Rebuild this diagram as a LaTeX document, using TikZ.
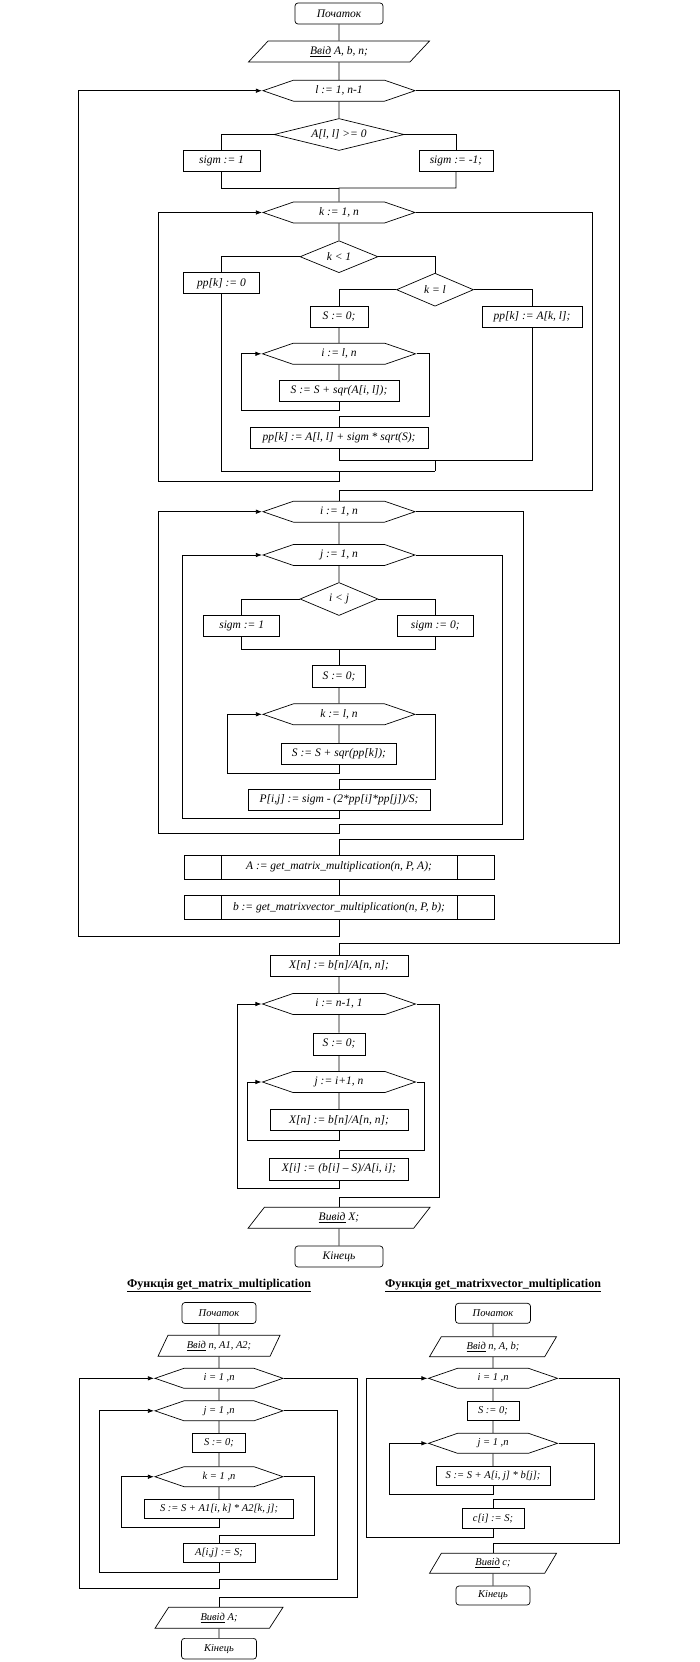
\documentclass[tikz,border=0pt]{standalone}
\usepackage{fontspec}
\setmainfont{Liberation Serif}
\usetikzlibrary{shapes.geometric, shapes.symbols, arrows.meta}
\newcommand\flowsize{11.5}
\newcommand\flowfont{\fontsize{\flowsize}{13}\selectfont\itshape}
\tikzset{
  terminal/.style={rectangle, rounded corners=3pt, draw, inner sep=1pt,
                   minimum height=21pt, font=\flowfont},
  procbox/.style={rectangle, draw, inner sep=1pt, minimum height=21pt,
                  font=\flowfont},
  subproc/.style={procbox, minimum width=310pt, minimum height=24pt,
                  path picture={
                    \draw ([xshift=37pt]path picture bounding box.north west)
                      -- ([xshift=37pt]path picture bounding box.south west);
                    \draw ([xshift=-37pt]path picture bounding box.north east)
                      -- ([xshift=-37pt]path picture bounding box.south east);}},
  iobox/.style 2 args={trapezium, trapezium left angle=#1,
                       trapezium right angle=#2, trapezium stretches body,
                       draw, inner sep=1pt, minimum height=21pt, font=\flowfont},
  loopbox/.style={signal, signal to=east and west, signal pointer angle=38,
                  draw, inner sep=1pt, minimum height=21pt, font=\flowfont},
  condbox/.style={diamond, draw, inner sep=0pt, aspect=2.4, font=\flowfont},
  functitle/.style={font=\fontsize{12}{14}\selectfont\bfseries},
  arrow/.style={-{Latex[length=6pt, width=4.5pt]}},
}
\begin{document}
\begin{tikzpicture}[x=1pt, y=-1pt, line width=0.7pt]
  \useasboundingbox (0,0) rectangle (700,1662);

  % main program
  \node[terminal, minimum width=88pt] (start) at (339,13.5) {Початок};
  \node[iobox={31.7}{148.3}, minimum width=181pt] (input) at (339,51.5)
    {\underline{Ввід} A, b, n;};
  \node[loopbox, minimum width=152pt] (loopl) at (339,90.7) {l := 1, n-1};
  \node[condbox, aspect=4, minimum width=130pt, minimum height=32pt] (condA)
    at (339,134.5) {A[l, l] >= 0};
  \node[procbox, minimum width=77pt] (sigpos) at (221.5,161) {sigm := 1};
  \node[procbox, minimum width=74pt] (signeg) at (456,161) {sigm := -1;};
  \coordinate (mergeA) at (339,188);

  \node[loopbox, minimum width=152pt] (loopk) at (339,212.5) {k := 1, n};
  \node[condbox, minimum width=78pt, minimum height=32pt] (condK) at (339,256.7)
    {k < 1};
  \node[procbox, minimum width=76pt] (ppzero) at (221.5,283.3) {pp[k] := 0};
  \node[condbox, minimum width=77pt, minimum height=33pt] (condKL) at (435,289.7)
    {k = l};
  \node[procbox, minimum width=58pt] (szero) at (339,317) {S  := 0;};
  \node[procbox, minimum width=100pt] (ppakl) at (532,317) {pp[k] := A[k, l];};
  \node[loopbox, minimum width=153pt] (loopi) at (339,353.8) {i := l, n};
  \node[procbox, minimum width=120pt] (sumA) at (339,391) {S := S + sqr(A[i, l]);};
  \node[procbox, minimum width=178pt] (ppall) at (339,438)
    {pp[k] := A[l, l] + sigm * sqrt(S);};
  \coordinate (mergeKL) at (435,460);
  \coordinate (mergeK) at (435,471);
  \coordinate (joinK) at (339,471);

  \node[loopbox, minimum width=152pt] (loopi2) at (339,511.7) {i := 1, n};
  \node[loopbox, minimum width=152pt] (loopj) at (339,555) {j := 1, n};
  \node[condbox, minimum width=78pt, minimum height=33pt] (condIJ) at (339,599)
    {i < j};
  \node[procbox, minimum width=76pt] (sigone) at (241.7,625.7) {sigm := 1};
  \node[procbox, minimum width=76pt] (sigzero) at (435.3,625.7) {sigm := 0;};
  \coordinate (mergeIJ) at (339,649);
  \node[procbox, minimum width=53pt, minimum height=22pt] (szero2) at (339,676.3)
    {S := 0;};
  \node[loopbox, minimum width=152pt] (loopk2) at (339,714.3) {k := l, n};
  \node[procbox, minimum width=115pt] (sumpp) at (339,754) {S := S + sqr(pp[k]);};
  \node[procbox, minimum width=182pt] (pij) at (339,799.7)
    {P[i,j] := sigm - (2*pp[i]*pp[j])/S;};
  \coordinate (joinJ) at (339,824);

  \node[subproc] (callA) at (339,867) {A := get\_matrix\_multiplication(n, P, A);};
  \node[subproc] (callB) at (339,907.3)
    {b := get\_matrixvector\_multiplication(n, P, b);};

  \node[procbox, minimum width=138pt] (xn) at (339,965.5) {X[n] := b[n]/A[n, n];};
  \node[loopbox, minimum width=153pt] (loopi3) at (339,1004) {i := n-1, 1};
  \node[procbox, minimum width=52pt, minimum height=22pt] (szero3) at (339,1044)
    {S := 0;};
  \node[loopbox, minimum width=153pt] (loopj3) at (339,1082) {j := i+1, n};
  \node[procbox, minimum width=138pt] (xnj) at (339,1120.3) {X[n] := b[n]/A[n, n];};
  \node[procbox, minimum width=139pt, minimum height=22pt] (xi) at (339,1169)
    {X[i] := (b[i] – S)/A[i, i];};
  \node[iobox={36.5}{143.5}, minimum width=182pt] (output) at (339,1217.8)
    {\underline{Вивід} X;};
  \node[terminal, minimum width=88pt] (stop) at (339,1256.5) {Кінець};

  \draw (start) -- (input) -- (loopl) -- (condA);
  \draw (condA.west) -| (sigpos);
  \draw (condA.east) -| (signeg);
  \draw (sigpos) |- (mergeA);
  \draw (signeg) |- (mergeA) -- (loopk);
  \draw (loopk) -- (condK);
  \draw (condK.west) -| (ppzero);
  \draw (condK.east) -| (condKL);
  \draw (condKL.west) -| (szero);
  \draw (condKL.east) -| (ppakl);
  \draw (szero) -- (loopi) -- (sumA);
  \coordinate (iL) at (241.7,410);
  \coordinate (iR) at (429.3,416.7);
  \draw[arrow] (sumA) |- (iL) |- (loopi.west);
  \draw (loopi.east) -| (iR) -| (ppall);
  \draw (ppall) |- (mergeKL);
  \draw (ppakl) |- (mergeKL) -- (mergeK);
  \draw (ppzero) |- (mergeK);
  \coordinate (kL) at (158.3,481);
  \coordinate (kR) at (592.3,490.7);
  \draw[arrow] (joinK) |- (kL) |- (loopk.west);
  \draw (loopk.east) -| (kR) -| (loopi2);

  \draw (loopi2) -- (loopj) -- (condIJ);
  \draw (condIJ.west) -| (sigone);
  \draw (condIJ.east) -| (sigzero);
  \draw (sigone) |- (mergeIJ);
  \draw (sigzero) |- (mergeIJ) -- (szero2);
  \draw (szero2) -- (loopk2) -- (sumpp);
  \coordinate (k2L) at (227.3,773.3);
  \coordinate (k2R) at (435.3,779.3);
  \draw[arrow] (sumpp) |- (k2L) |- (loopk2.west);
  \draw (loopk2.east) -| (k2R) -| (pij);
  \coordinate (jL) at (182.3,818.3);
  \coordinate (jR) at (502.3,824);
  \draw[arrow] (pij) |- (jL) |- (loopj.west);
  \draw (loopj.east) -| (jR) -- (joinJ);
  \coordinate (i2L) at (158.3,833.3);
  \coordinate (i2R) at (523.3,839.3);
  \draw[arrow] (joinJ) |- (i2L) |- (loopi2.west);
  \draw (loopi2.east) -| (i2R) -| (callA);
  \draw (callA) -- (callB);
  \coordinate (lL) at (78.3,936);
  \coordinate (lR) at (619,943.3);
  \draw[arrow] (callB) |- (lL) |- (loopl.west);
  \draw (loopl.east) -| (lR) -| (xn);

  \draw (xn) -- (loopi3) -- (szero3) -- (loopj3) -- (xnj);
  \coordinate (j3L) at (247.7,1140);
  \coordinate (j3R) at (424,1150.7);
  \draw[arrow] (xnj) |- (j3L) |- (loopj3.west);
  \draw (loopj3.east) -| (j3R) -| (xi);
  \coordinate (i3L) at (237.3,1188.3);
  \coordinate (i3R) at (439.3,1197.3);
  \draw[arrow] (xi) |- (i3L) |- (loopi3.west);
  \draw (loopi3.east) -| (i3R) -| (output);
  \draw (output) -- (stop);

  % the two functions, set a little smaller
  \begin{scope}
  \renewcommand\flowsize{10.5}

  % function get_matrix_multiplication
  \node[functitle] (mtitle) at (219,1285.7)
    {\underline{Функція get\_matrix\_multiplication}};
  \node[terminal, minimum width=74pt] (mstart) at (219,1313) {Початок};
  \node[iobox={48.8}{131.2}, minimum width=122pt] (minput) at (219,1345.8)
    {\underline{Ввід} n, A1, A2;};
  \node[loopbox, minimum width=128pt, minimum height=20pt] (mloopi) at (219,1378.3)
    {i = 1 ,n};
  \node[loopbox, minimum width=128pt, minimum height=20pt] (mloopj) at (219,1410.8)
    {j = 1 ,n};
  \node[procbox, minimum width=53pt, minimum height=19.5pt] (mszero) at (219,1443)
    {S := 0;};
  \node[loopbox, minimum width=128pt, minimum height=20pt] (mloopk) at (219,1476.7)
    {k = 1 ,n};
  \node[procbox, minimum width=149pt, minimum height=19pt] (msum) at (219,1508.8)
    {S := S + A1[i, k] * A2[k, j];};
  \node[procbox, minimum width=72pt, minimum height=19.5pt] (maij) at (219,1553)
    {A[i,j] := S;};
  \node[iobox={40}{140}, minimum width=128pt] (moutput) at (219,1617.8)
    {\underline{Вивід} A;};
  \node[terminal, minimum width=75pt, minimum height=20.7pt] (mstop) at (219,1648.7)
    {Кінець};

  \draw (mstart) -- (minput) -- (mloopi) -- (mloopj) -- (mszero) -- (mloopk) -- (msum);
  \coordinate (mkL) at (121.7,1527.7);
  \coordinate (mkR) at (314.3,1535.7);
  \draw[arrow] (msum) |- (mkL) |- (mloopk.west);
  \draw (mloopk.east) -| (mkR) -| (maij);
  \coordinate (mjL) at (99.3,1572.3);
  \coordinate (mjR) at (337.7,1579.3);
  \coordinate (mjoin) at (219,1579.3);
  \draw[arrow] (maij) |- (mjL) |- (mloopj.west);
  \draw (mloopj.east) -| (mjR) -- (mjoin);
  \coordinate (miL) at (79.3,1588.3);
  \coordinate (miR) at (357.3,1597.3);
  \draw[arrow] (mjoin) |- (miL) |- (mloopi.west);
  \draw (mloopi.east) -| (miR) -| (moutput);
  \draw (moutput) -- (mstop);

  % function get_matrixvector_multiplication
  \node[functitle] (vtitle) at (493,1285.7)
    {\underline{Функція get\_matrixvector\_multiplication}};
  \node[terminal, minimum width=75pt, minimum height=20pt] (vstart) at (493,1313.3)
    {Початок};
  \node[iobox={44}{136}, minimum width=127pt, minimum height=20pt] (vinput)
    at (493,1346.7) {\underline{Ввід} n, A, b;};
  \node[loopbox, minimum width=129pt, minimum height=20pt] (vloopi) at (493,1378.3)
    {i = 1 ,n};
  \node[procbox, minimum width=52pt, minimum height=18.5pt] (vszero) at (493,1411)
    {S := 0;};
  \node[loopbox, minimum width=129pt, minimum height=20pt] (vloopj) at (493,1443.3)
    {j = 1 ,n};
  \node[procbox, minimum width=114pt, minimum height=19pt] (vsum) at (493,1475.8)
    {S := S + A[i, j] * b[j];};
  \node[procbox, minimum width=62pt, minimum height=20pt] (vci) at (493,1518.3)
    {c[i] := S;};
  \node[iobox={44}{136}, minimum width=127pt, minimum height=20pt] (voutput)
    at (493,1563.3) {\underline{Вивід} c;};
  \node[terminal, minimum width=74pt, minimum height=19pt] (vstop) at (493,1595.5)
    {Кінець};

  \draw (vstart) -- (vinput) -- (vloopi) -- (vszero) -- (vloopj) -- (vsum);
  \coordinate (vjL) at (389.3,1494);
  \coordinate (vjR) at (594.3,1499.3);
  \draw[arrow] (vsum) |- (vjL) |- (vloopj.west);
  \draw (vloopj.east) -| (vjR) -| (vci);
  \coordinate (viL) at (366.7,1537.3);
  \coordinate (viR) at (619.3,1543.3);
  \draw[arrow] (vci) |- (viL) |- (vloopi.west);
  \draw (vloopi.east) -| (viR) -| (voutput);
  \draw (voutput) -- (vstop);
  \end{scope}
\end{tikzpicture}
\end{document}
